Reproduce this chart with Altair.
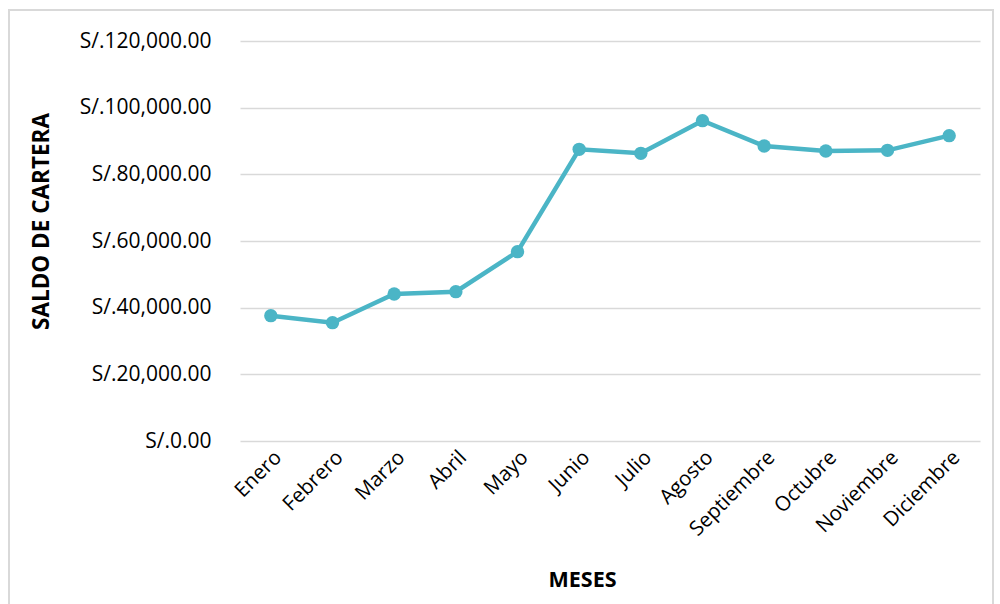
import altair as alt
import pandas as pd

meses = ["Enero", "Febrero", "Marzo", "Abril", "Mayo", "Junio", "Julio",
         "Agosto", "Septiembre", "Octubre", "Noviembre", "Diciembre"]
saldo = [37600, 35500, 44100, 44800, 56800, 87500, 86300, 96100, 88500, 87000, 87200, 91600]

df = pd.DataFrame({"mes": meses, "saldo": saldo})

FONT = "Open Sans"
COLOR = "#4BB5C6"

x = alt.X("mes:N", sort=meses, title="MESES",
          scale=alt.Scale(paddingInner=0, paddingOuter=0),
          axis=alt.Axis(labelAngle=-45, labelFont=FONT, labelFontSize=20.5, labelColor="#000000",
                        labelPadding=6, domain=False, ticks=False, grid=False,
                        titleFont=FONT, titleFontSize=21.5, titleFontWeight="bold", titleColor="#000000",
                        titlePadding=30, titleX=342))
y = alt.Y("saldo:Q", title="SALDO DE CARTERA",
          scale=alt.Scale(domain=[0, 120000], nice=False),
          axis=alt.Axis(values=[0, 20000, 40000, 60000, 80000, 100000, 120000],
                        labelExpr="'S/.' + format(datum.value, ',.2f')",
                        labelFont=FONT, labelFontSize=21, labelColor="#000000", labelPadding=29,
                        domain=False, ticks=False, gridColor="#D9D9D9", gridWidth=1.5,
                        titleFont=FONT, titleFontSize=22.5, titleFontWeight="bold", titleColor="#000000",
                        titlePadding=26, titleY=180))

border = alt.Chart(df).mark_rect(fill="transparent", stroke="#D9D9D9", strokeWidth=1.5, clip=False).encode(
    x=alt.value(-231), x2=alt.value(753), y=alt.value(-31), y2=alt.value(600)
)

line = alt.Chart(df).mark_line(color=COLOR, strokeWidth=4.5).encode(x=x, y=y)
pts = alt.Chart(df).mark_circle(color=COLOR, size=180, opacity=1).encode(x=x, y=y)

chart = alt.layer(border, line, pts).properties(
    width=740, height=400,
    autosize=alt.AutoSizeParams(type="none"),
    padding={"left": 240, "top": 41, "right": 20, "bottom": 163},
    background="white",
).configure_view(stroke=None)

chart.save("out.html", embed_options={"renderer": "svg", "actions": False})
